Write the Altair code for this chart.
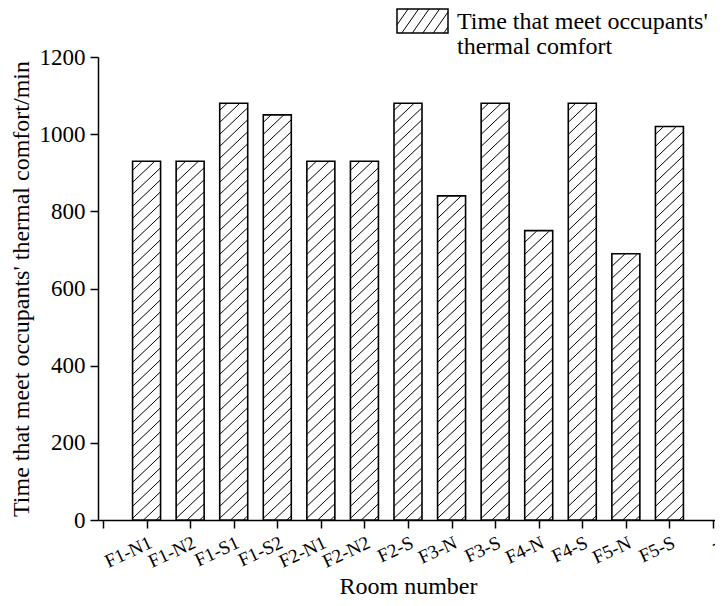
import altair as alt
import pandas as pd
import numpy as np

rooms = ["F1-N1", "F1-N2", "F1-S1", "F1-S2", "F2-N1", "F2-N2", "F2-S",
         "F3-N", "F3-S", "F4-N", "F4-S", "F5-N", "F5-S"]
minutes = [930, 930, 1080, 1050, 930, 930, 1080, 840, 1080, 750, 1080, 690, 1020]
extra_label = "-"
y_ticks = list(range(0, 1201, 100))
legend_label = "Time that meet occupants'\nthermal comfort"
x_title = "Room number"
y_title = "Time that meet occupants' thermal comfort/min"

W, H = 620, 463
XMAX, YMAX = 14, 1200
BAR_PX = 28
FONT = "Liberation Serif"

pos = list(range(1, len(rooms) + 1))
bars = pd.DataFrame({"pos": pos, "room": rooms, "minutes": minutes})

# hatch lines (derived from bar values)
px_x = W / XMAX
px_y = H / YMAX
slope = np.tan(np.radians(43))
step = 12.0


def clip(y0, s, w, h):
    lo = max(0.0, (0.0 - y0) / s)
    hi = min(w, (h - y0) / s)
    if lo < hi:
        return lo, y0 + s * lo, hi, y0 + s * hi
    return None


rows = []
for p, v in zip(pos, minutes):
    hpx = v * px_y
    left = p - BAR_PX / 2 / px_x
    y0 = -slope * BAR_PX + 4
    while y0 < hpx:
        seg = clip(y0, slope, BAR_PX, hpx)
        if seg:
            xa, ya, xb, yb = seg
            rows.append({"x1": left + xa / px_x, "x2": left + xb / px_x,
                         "y1": ya / px_y, "y2": yb / px_y})
        y0 += step
hatch = pd.DataFrame(rows)

label_list = rooms + [extra_label]
arr = "[" + ",".join("'" + s + "'" for s in label_list) + "]"
x_label_expr = f"(datum.value % 1 === 0 && datum.value >= 1) ? {arr}[datum.value - 1] : ''"

xscale = alt.Scale(domain=[0, XMAX], nice=False, zero=False)
yscale = alt.Scale(domain=[0, YMAX], nice=False)

x_axis = alt.Axis(
    values=[i / 2 for i in range(0, 2 * XMAX + 1)],
    labelExpr=x_label_expr,
    labelAngle=335, labelAlign="right", labelBaseline="top",
    labelOverlap=False, labelPadding=5, labelFontSize=19,
    tickSize={"condition": {"test": "datum.value % 1 === 0", "value": 8}, "value": 4},
    title=x_title, titlePadding=3, titleFontSize=24,
)
y_axis = alt.Axis(
    values=y_ticks,
    labelExpr="datum.value % 200 === 0 ? datum.label : ''",
    format="d", labelFontSize=23,
    tickSize={"condition": {"test": "datum.value % 200 === 0", "value": 8}, "value": 4},
    labelPadding=5, title=y_title, titlePadding=6, titleFontSize=24,
)

base_fill = alt.Chart(bars).mark_bar(size=BAR_PX, fill="white", stroke=None).encode(
    x=alt.X("pos:Q", scale=xscale, axis=x_axis, title=x_title),
    y=alt.Y("minutes:Q", scale=yscale, axis=y_axis, title=y_title),
)
hatch_layer = alt.Chart(hatch).mark_rule(color="black", strokeWidth=1).encode(
    x=alt.X("x1:Q", scale=xscale, title=x_title),
    x2="x2:Q",
    y=alt.Y("y1:Q", scale=yscale, title=y_title),
    y2="y2:Q",
)
outline = alt.Chart(bars).mark_bar(size=BAR_PX, fill=None, fillOpacity=0,
                                   stroke="black", strokeWidth=1.6).encode(
    x=alt.X("pos:Q", scale=xscale, title=x_title),
    y=alt.Y("minutes:Q", scale=yscale, title=y_title),
)

# legend (drawn above the plot area, in pixel units)
one = pd.DataFrame({"k": [0]})
LX0, LX1, LY0, LY1 = 299, 350, -48, -24
leg_layers = [alt.Chart(one).mark_rect(fill="white", stroke="black", strokeWidth=1.5).encode(
    x=alt.value(LX0), x2=alt.value(LX1), y=alt.value(LY0), y2=alt.value(LY1))]
lw, lh = LX1 - LX0, LY1 - LY0
ls = np.tan(np.radians(55))
y0 = -ls * lw + 6
while y0 < lh:
    seg = clip(y0, ls, lw, lh)
    if seg:
        xa, ya, xb, yb = seg
        leg_layers.append(alt.Chart(one).mark_rule(color="black", strokeWidth=1).encode(
            x=alt.value(LX0 + xa), x2=alt.value(LX0 + xb),
            y=alt.value(LY1 - ya), y2=alt.value(LY1 - yb)))
    y0 += 15
leg_layers.append(alt.Chart(one).mark_text(
    align="left", baseline="alphabetic", font=FONT, fontSize=24, lineBreak="\n",
    lineHeight=25, color="black").encode(
    x=alt.value(359), y=alt.value(-28), text=alt.value(legend_label)))

chart = alt.layer(base_fill, hatch_layer, outline, *leg_layers).properties(
    width=W, height=H,
    autosize=alt.AutoSizeParams(type="none"),
    padding={"left": 90, "top": 49, "right": -3, "bottom": 78},
).configure_view(stroke=None).configure_axis(
    domainColor="black", domainWidth=1.5, tickColor="black", tickWidth=1.5,
    labelColor="black", labelFont=FONT,
    titleFont=FONT, titleFontWeight="normal", titleColor="black",
    grid=False,
)

chart.save("out.html", embed_options={"renderer": "svg", "actions": False})
